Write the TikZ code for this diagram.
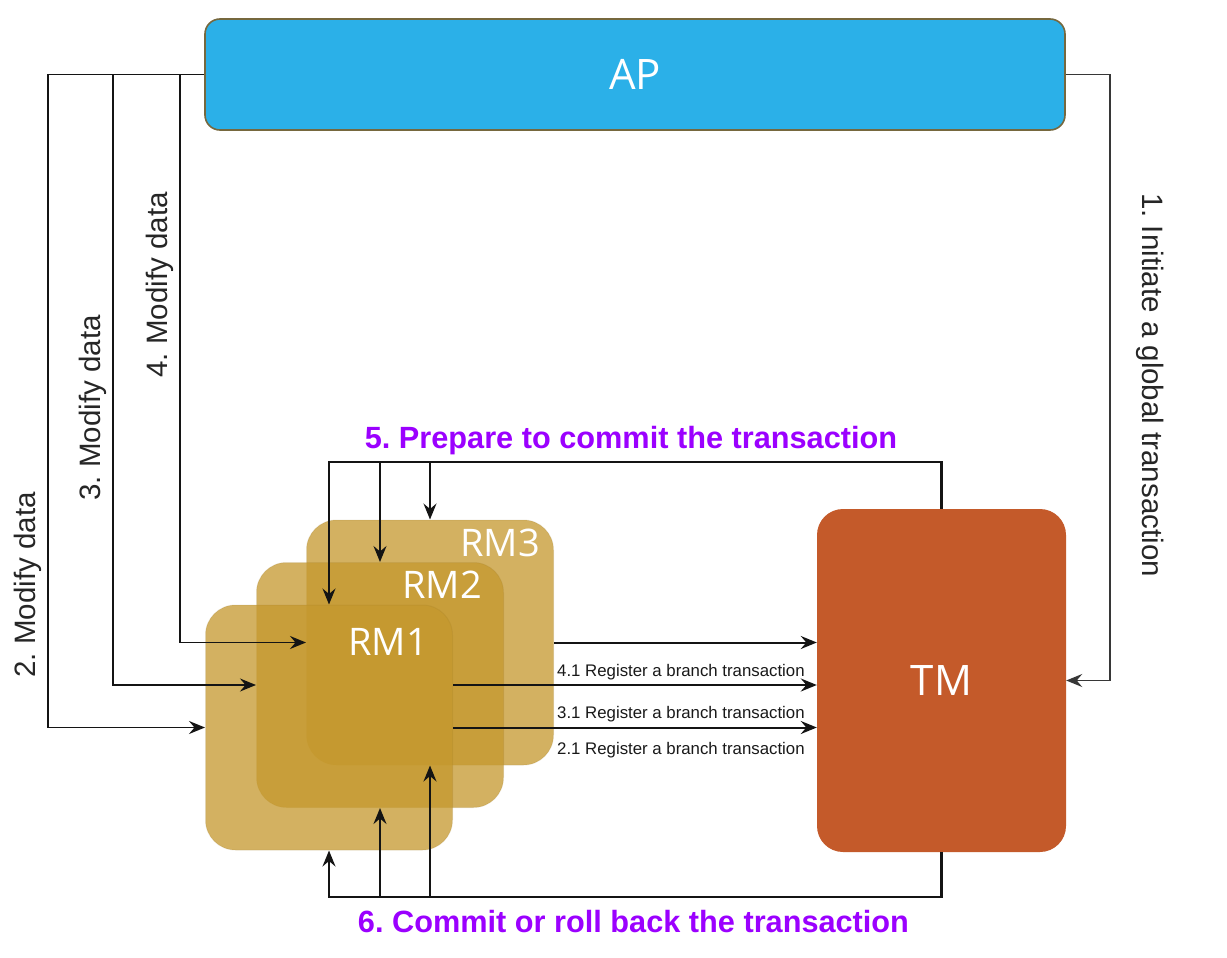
\documentclass[tikz,border=0pt]{standalone}
\usepackage{fontspec}
\setmainfont{Liberation Sans}
\newfontfamily\boxfont{Open Sans}
\usetikzlibrary{arrows.meta,calc}
\frenchspacing

\definecolor{apblue}{RGB}{43,176,232}
\definecolor{apedge}{RGB}{118,104,62}
\definecolor{tmorange}{RGB}{196,90,42}
\definecolor{rmgold}{RGB}{197,152,45}
\definecolor{steppurple}{RGB}{155,0,255}
\definecolor{wire}{RGB}{20,20,20}

\begin{document}
\begin{tikzpicture}[x=1pt,y=-1pt,
  tip/.style={-{Stealth[length=16pt,width=13pt,inset=5.5pt]}},
  arr/.style={draw=wire,line width=2pt,tip},
  bus/.style={draw=wire,line width=2.3pt},
  apbox/.style={draw=apedge,line width=1.6pt,fill=apblue,rounded corners=15pt,
    minimum width=860pt,minimum height=111pt,inner sep=0pt,text=white,
    font=\boxfont\fontsize{42}{50}\selectfont},
  tmbox/.style={fill=tmorange,rounded corners=26pt,
    minimum width=249pt,minimum height=343pt,inner sep=0pt,text=white,
    font=\boxfont\fontsize{42}{50}\selectfont},
  rmbox/.style={fill=rmgold,fill opacity=0.75,draw=rmgold!70!black,draw opacity=0.12,
    line width=1pt,rounded corners=30pt,
    minimum width=247pt,minimum height=245pt,inner sep=0pt},
  rmtext/.style={text=white,font=\boxfont\fontsize{38}{46}\selectfont,inner sep=0pt},
  steptext/.style={text=steppurple,font=\bfseries\fontsize{30.7}{36}\selectfont,
    inner sep=0pt,anchor=base},
  sidetext/.style={text=black!85,font=\fontsize{29.5}{34}\selectfont,inner sep=0pt},
  regtext/.style={text=black!90,font=\fontsize{16.8}{20}\selectfont,
    inner sep=0pt,anchor=base west}]

\useasboundingbox (0,0) rectangle (1227,958);
\fill[white] (0,0) rectangle (1227,958);

% components
\node[apbox] (ap) at (635,74.5) {AP};
\node[tmbox] (tm) at (941.5,680.5) {TM};
\node[rmbox] (rm3) at (430,642.5) {};
\node[rmbox] (rm2) at (380,685) {};
\node[rmbox] (rm1) at (329,727.5) {};
\node[rmtext] (rm3label) at (500,543) {RM3};
\node[rmtext] (rm2label) at (442,585) {RM2};
\node[rmtext] (rm1label) at (388,642) {RM1};

% rails and buses
\coordinate (rail1) at (1110,400);
\coordinate (rail2) at (48,400);
\coordinate (rail3) at (113,400);
\coordinate (rail4) at (180,400);
\coordinate (bus5) at (600,462);
\coordinate (bus6) at (600,897);

% 1. AP -> TM
\draw[arr,line width=1.7pt,draw=wire!85] (ap.east) -| (rail1) |- (tm.east);
% 2.-4. AP -> RMs
\draw[arr,line width=1.7pt] (ap.west) -| (rail2) |- (rm1.west);
\draw[arr,line width=1.7pt] (ap.west -| rail3) |- (rm2.west);
\draw[arr,line width=1.7pt] (ap.west -| rail4) |- (rm3.west);

% 5. TM -> RMs (prepare)
\draw[bus] (tm.north) |- (bus5);
\draw[arr] (bus5) -| (rm1.north);
\draw[arr] (bus5 -| rm2.north) -- (rm2.north);
\draw[arr] (bus5 -| rm3.north) -- (rm3.north);

% 6. TM -> RMs (commit / roll back)
\draw[bus] (tm.south) |- (bus6);
\draw[arr] (bus6) -| (rm1.south);
\draw[arr] (bus6 -| rm2.south) -- (rm2.south);
\draw[arr] (bus6 -| rm3.south) -- (rm3.south);

% branch registration
\draw[arr] (rm3.east) -- (rm3.east -| tm.west);
\draw[arr] (rm1.east |- rm2.center) -- (rm2.center -| tm.west);
\draw[arr] (rm1.east) -- (rm1.east -| tm.west);

% labels
\node[steptext] (step5) at (631,448) {5. Prepare to commit the transaction};
\node[steptext] (step6) at (633.5,932) {6. Commit or roll back the transaction};
\node[sidetext,rotate=-90] (step1) at (1150,385) {1. Initiate a global transaction};
\node[sidetext,rotate=90] (step2) at (28,585) {2. Modify data};
\node[sidetext,rotate=90] (step3) at (93,408) {3. Modify data};
\node[sidetext,rotate=90] (step4) at (160,285) {4. Modify data};
\node[regtext] (reg4) at (557,676) {4.1 Register a branch transaction};
\node[regtext] (reg3) at (557,718) {3.1 Register a branch transaction};
\node[regtext] (reg2) at (557,754) {2.1 Register a branch transaction};
\end{tikzpicture}
\end{document}
